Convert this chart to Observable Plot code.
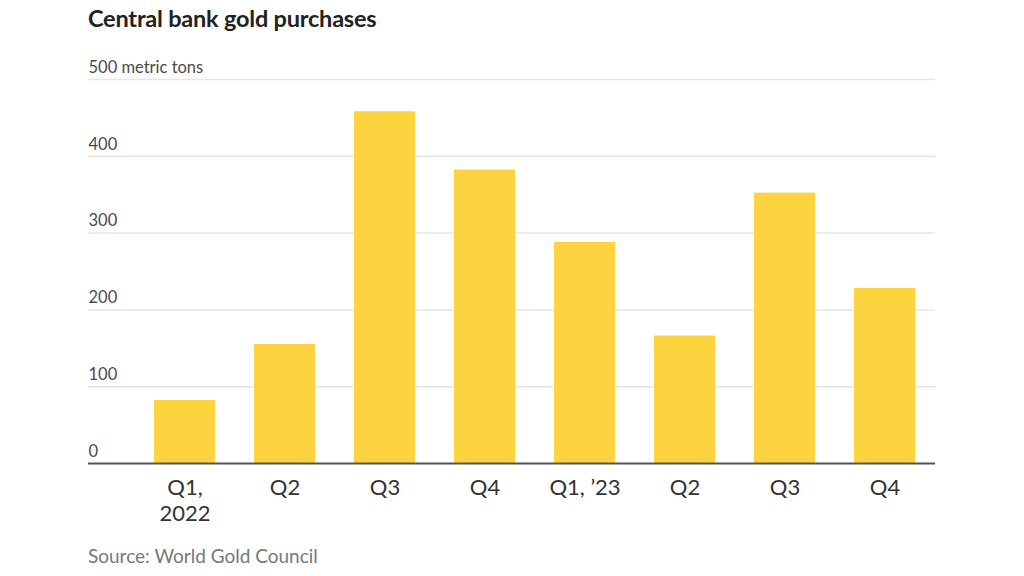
<!DOCTYPE html>
<html>
<head>
<meta charset="utf-8">
<script src="https://cdn.jsdelivr.net/npm/d3@7"></script>
<script src="https://cdn.jsdelivr.net/npm/@observablehq/plot@0.6"></script>
<style>
  html, body { margin: 0; padding: 0; background: #fff; }
  body { width: 1024px; height: 576px; position: relative; overflow: hidden; font-family: Lato, "Noto Sans", sans-serif; }
  #title { position: absolute; left: 88px; top: 4px; font-size: 23.5px; font-weight: 700; color: #222; letter-spacing: -0.2px; }
  #chart { position: absolute; left: 0; top: 40px; }
  #source { position: absolute; left: 88px; top: 544px; font-size: 19px; color: #777; }
</style>
</head>
<body>
<div id="title">Central bank gold purchases</div>
<div id="chart"></div>
<div id="source">Source: World Gold Council</div>
<script>
// Quarterly central bank gold purchases, metric tons
const quarters = ["2022 Q1", "2022 Q2", "2022 Q3", "2022 Q4", "2023 Q1", "2023 Q2", "2023 Q3", "2023 Q4"];
const tons = [82, 155, 458, 382, 288, 166, 352, 228];
const quarterLabels = ["Q1,\n2022", "Q2", "Q3", "Q4", "Q1, \u201923", "Q2", "Q3", "Q4"];
const yTicks = [0, 100, 200, 300, 400, 500];
const yTickLabels = ["0", "100", "200", "300", "400", "500 metric tons"];

const data = quarters.map((q, i) => ({quarter: q, tons: tons[i]}));
const tickRows = yTicks.map((v, i) => ({value: v, label: yTickLabels[i]}));
const labelOf = new Map(quarters.map((q, i) => [q, quarterLabels[i]]));

const chart = Plot.plot({
  width: 1024,
  height: 500,
  marginTop: 39,
  marginBottom: 77,
  marginLeft: 88,
  marginRight: 89,
  style: {fontFamily: "Lato, 'Noto Sans', sans-serif", background: "#fff"},
  x: {domain: quarters, range: [131.5, 936.5], paddingInner: 0.39, paddingOuter: 0.2, label: null},
  y: {domain: [0, 500], label: null, axis: null},
  marks: [
    Plot.ruleY(yTicks.filter(v => v > 0), {stroke: "#e6e6e6", strokeWidth: 1.5}),
    Plot.barY(data, {x: "quarter", y: "tons", fill: "#fdd43f"}),
    Plot.ruleY([0], {stroke: "#555", strokeWidth: 2}),
    Plot.text(tickRows, {
      y: "value", text: "label", frameAnchor: "left", textAnchor: "start",
      dy: -12, fontSize: 16.5, fill: "#4a4a4a"
    }),
    Plot.axisX({
      tickSize: 0, tickPadding: 14, fontSize: 22, fill: "#333",
      lineHeight: 1.15, tickFormat: q => labelOf.get(q), label: null
    })
  ]
});
document.getElementById("chart").appendChild(chart);
</script>
</body>
</html>
